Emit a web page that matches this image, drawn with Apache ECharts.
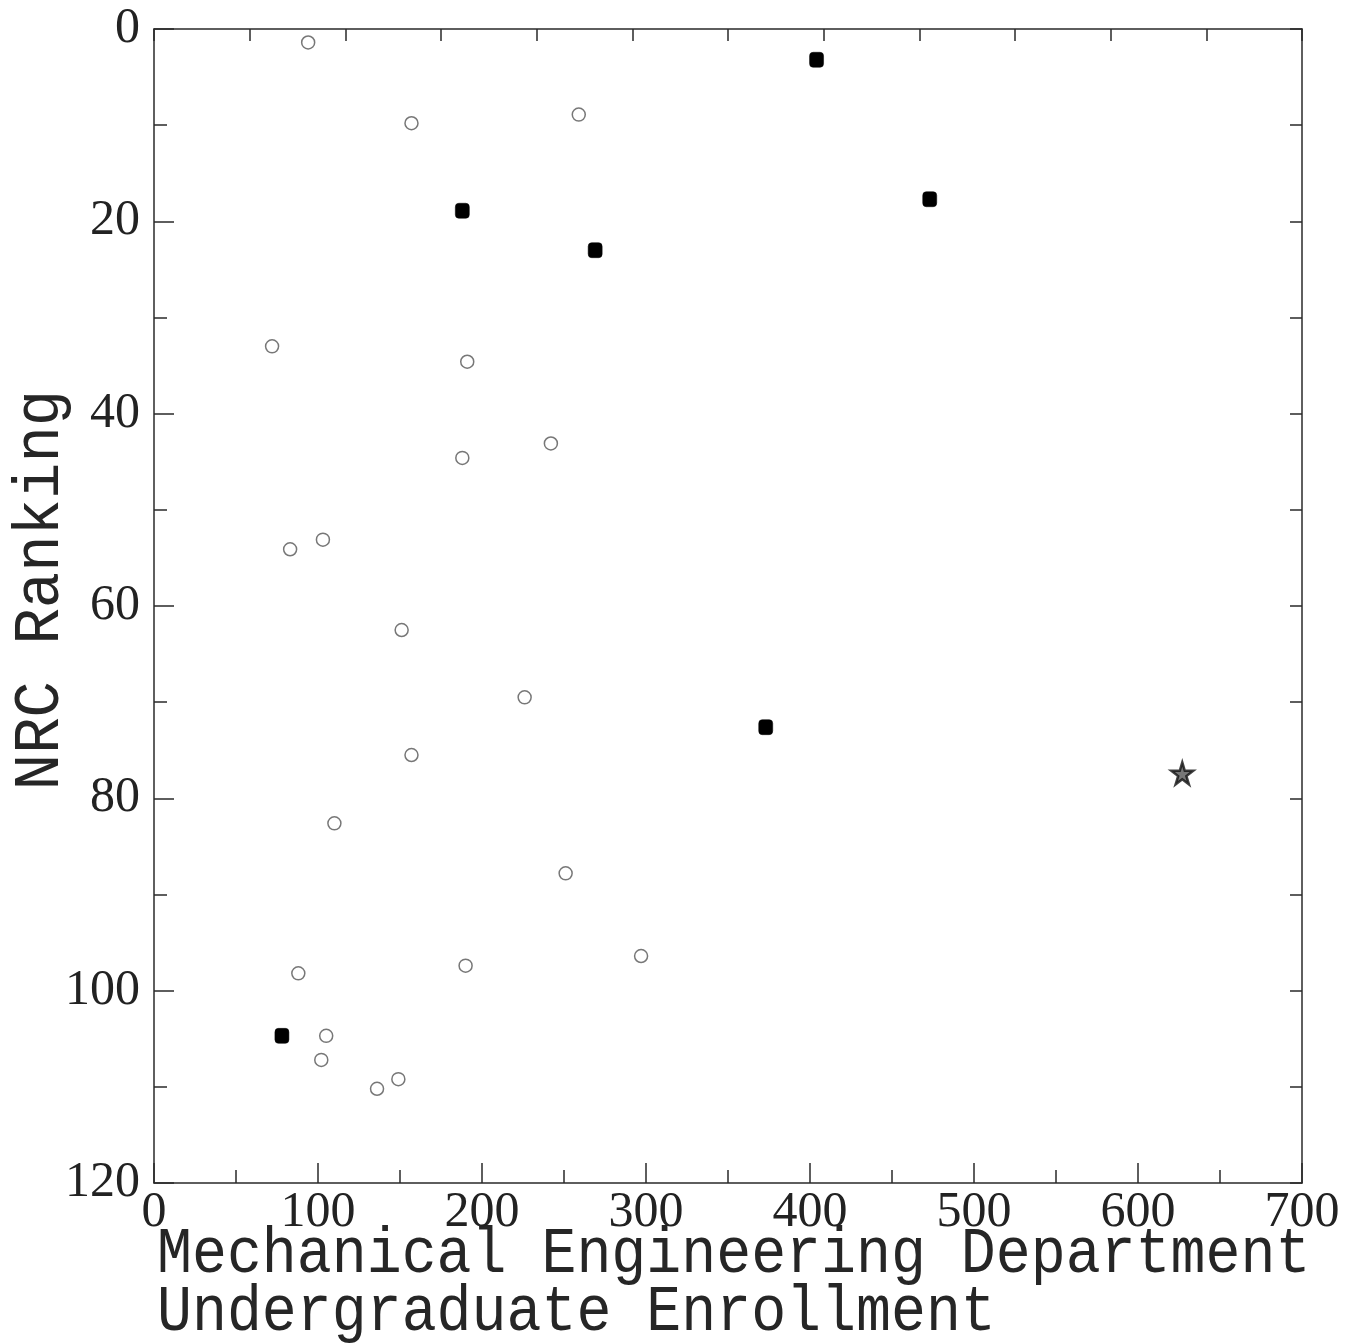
<!DOCTYPE html>
<html>
<head>
<meta charset="utf-8">
<script src="https://cdn.jsdelivr.net/npm/echarts@6/dist/echarts.min.js"></script>
<style>
html,body{margin:0;padding:0;background:#fff;}
#chart{width:1347px;height:1343px;}
</style>
</head>
<body>
<div id="chart"></div>
<script>
// ---- data ----
const openEnroll  = [94, 157, 259, 72, 191, 242, 188, 83, 103, 151, 226, 157, 110, 251, 88, 190, 297, 105, 102, 136, 149];
const openRank    = [1.4, 9.8, 8.9, 33, 34.6, 43.1, 44.6, 54.1, 53.1, 62.5, 69.5, 75.5, 82.6, 87.8, 98.2, 97.4, 96.4, 104.7, 107.2, 110.2, 109.2];
const filledEnroll = [404, 473, 188, 269, 373, 78];
const filledRank   = [3.2, 17.7, 18.9, 23, 72.6, 104.7];
const starEnroll = [627];
const starRank   = [77.4];
const xTicks = [0, 100, 200, 300, 400, 500, 600, 700];
const yTicks = [0, 20, 40, 60, 80, 100, 120];
const xTitleLines = ['Mechanical Engineering Department', 'Undergraduate Enrollment'];
const yTitle = 'NRC Ranking';

const pairs = (xs, ys) => xs.map((x, i) => [x, ys[i]]);

const axisCol = '#2a2a2a';
const labelFont = 'Liberation Serif';
const titleFont = '64px "Liberation Mono"';

const chart = echarts.init(document.getElementById('chart'), null, {renderer: 'canvas'});
chart.setOption({
  animation: false,
  backgroundColor: '#ffffff',
  grid: {left: 154, top: 29, right: 45, bottom: 160, containLabel: false},
  xAxis: [{
    type: 'value', position: 'bottom',
    min: xTicks[0], max: xTicks[xTicks.length - 1], interval: 100,
    axisLine: {show: true, onZero: false, lineStyle: {color: axisCol, width: 1.5}},
    axisTick: {show: true, inside: true, length: 20, lineStyle: {color: axisCol, width: 1.5}},
    minorTick: {show: true, splitNumber: 2, length: 13, lineStyle: {color: axisCol, width: 1.5}},
    splitLine: {show: false},
    axisLabel: {show: true, margin: 5, color: '#222', fontFamily: labelFont, fontSize: 50, verticalAlign: 'top'}
  }, {
    type: 'value', position: 'top',
    min: 0, max: 120, interval: 10,
    axisLine: {show: true, onZero: false, lineStyle: {color: axisCol, width: 1.5}},
    axisTick: {show: true, inside: true, length: 12, lineStyle: {color: axisCol, width: 1.5}},
    splitLine: {show: false},
    axisLabel: {show: false}
  }],
  yAxis: [{
    type: 'value', position: 'left', inverse: true,
    min: yTicks[0], max: yTicks[yTicks.length - 1], interval: 20,
    axisLine: {show: true, onZero: false, lineStyle: {color: axisCol, width: 1.5}},
    axisTick: {show: true, inside: true, length: 20, lineStyle: {color: axisCol, width: 1.5}},
    minorTick: {show: true, splitNumber: 2, length: 13, lineStyle: {color: axisCol, width: 1.5}},
    splitLine: {show: false},
    axisLabel: {show: true, margin: 14, color: '#222', fontFamily: labelFont, fontSize: 50}
  }, {
    type: 'value', position: 'right', inverse: true,
    min: 0, max: 120, interval: 10,
    axisLine: {show: true, onZero: false, lineStyle: {color: axisCol, width: 1.5}},
    axisTick: {show: true, inside: true, length: 12, lineStyle: {color: axisCol, width: 1.5}},
    splitLine: {show: false},
    axisLabel: {show: false}
  }],
  series: [{
    name: 'open', type: 'scatter', xAxisIndex: 0, yAxisIndex: 0,
    symbol: 'circle', symbolSize: 13,
    itemStyle: {color: 'rgba(255,255,255,0)', borderColor: '#555', borderWidth: 1.5},
    data: pairs(openEnroll, openRank)
  }, {
    name: 'filled', type: 'scatter', xAxisIndex: 0, yAxisIndex: 0,
    symbol: 'roundRect', symbolSize: [14, 15],
    itemStyle: {color: '#000', borderColor: '#000', borderWidth: 0.5, opacity: 1},
    data: pairs(filledEnroll, filledRank)
  }, {
    name: 'star', type: 'scatter', xAxisIndex: 0, yAxisIndex: 0,
    symbol: 'path://M50,0 L61,35 L98,35 L68,57 L79,91 L50,70 L21,91 L32,57 L2,35 L39,35 Z',
    symbolSize: 22,
    itemStyle: {color: '#555', borderColor: '#111', borderWidth: 2.5},
    data: pairs(starEnroll, starRank)
  }],
  graphic: [{
    type: 'text', x: 157, y: 1255, scaleX: 0.91,
    style: {text: xTitleLines[0], font: titleFont, fill: '#262626', verticalAlign: 'middle', align: 'left'}
  }, {
    type: 'text', x: 157, y: 1313, scaleX: 0.91,
    style: {text: xTitleLines[1], font: titleFont, fill: '#262626', verticalAlign: 'middle', align: 'left'}
  }, {
    type: 'text', x: 41, y: 590, rotation: Math.PI / 2, scaleX: 0.948,
    style: {text: yTitle, font: titleFont, fill: '#262626', verticalAlign: 'middle', align: 'center'}
  }]
});
</script>
</body>
</html>
